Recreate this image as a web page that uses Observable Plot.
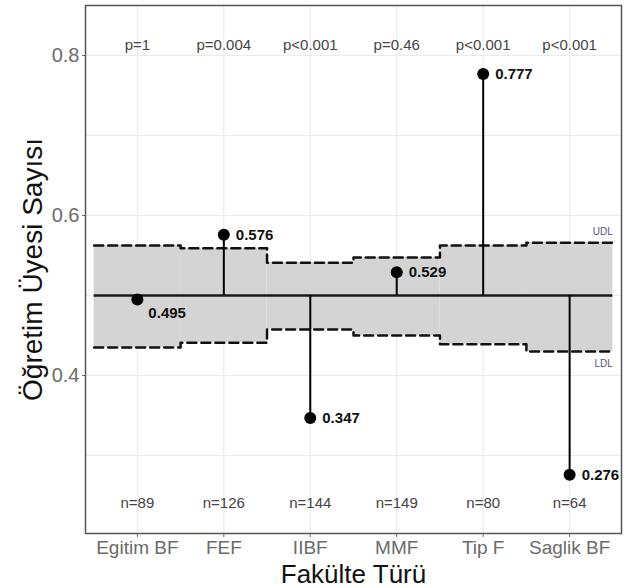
<!DOCTYPE html>
<html>
<head>
<meta charset="utf-8">
<script src="https://cdn.jsdelivr.net/npm/d3@7"></script>
<script src="https://cdn.jsdelivr.net/npm/@observablehq/plot@0.6"></script>
<style>
  html, body { margin: 0; padding: 0; background: #fff; }
</style>
</head>
<body>
<div id="chart"></div>
<script>
const categories = ["Egitim BF", "FEF", "IIBF", "MMF", "Tip F", "Saglik BF"];
const values = [0.495, 0.576, 0.347, 0.529, 0.777, 0.276];
const udl = [0.5625, 0.559, 0.541, 0.5475, 0.5625, 0.566];
const ldl = [0.435, 0.441, 0.4575, 0.45, 0.439, 0.43];
const nLabels = ["n=89", "n=126", "n=144", "n=149", "n=80", "n=64"];
const pLabels = ["p=1", "p=0.004", "p<0.001", "p=0.46", "p<0.001", "p<0.001"];
const centerValue = 0.5;
const yTicks = [0.4, 0.6, 0.8];
const yGrid = [0.3, 0.4, 0.5, 0.6, 0.7, 0.8];
const pLabelY = 0.8125;
const nLabelY = 0.24;

const data = categories.map((c, k) => ({
  i: k + 1, cat: c, value: values[k], udl: udl[k], ldl: ldl[k],
  n: nLabels[k], p: pLabels[k]
}));
const idx = data.map(d => d.i);
const udlSteps = data.flatMap(d => [{x: d.i - 0.5, y: d.udl}, {x: d.i + 0.5, y: d.udl}]);
const ldlSteps = data.flatMap(d => [{x: d.i - 0.5, y: d.ldl}, {x: d.i + 0.5, y: d.ldl}]);
const last = data[data.length - 1];
const nearCenter = d => Math.abs(d.value - centerValue) < 0.02;

const font = "'Liberation Sans', Arial, sans-serif";

const chart = Plot.plot({
  width: 626,
  height: 588,
  marginLeft: 85,
  marginRight: 5,
  marginTop: 5,
  marginBottom: 55,
  style: {fontFamily: font, background: "#fff"},
  x: {type: "linear", domain: [0.4, 6.6]},
  y: {domain: [0.2025, 0.8625]},
  marks: [
    Plot.gridY(yGrid, {stroke: "#ebebeb", strokeOpacity: 1, strokeWidth: 1.2}),
    Plot.gridX(idx, {stroke: "#ebebeb", strokeOpacity: 1, strokeWidth: 1.2}),
    Plot.rect(data, {x1: d => d.i - 0.5, x2: d => d.i + 0.5, y1: "ldl", y2: "udl", fill: "#d4d4d4"}),
    Plot.line(udlSteps, {x: "x", y: "y", stroke: "#111", strokeWidth: 2.5, strokeDasharray: "9,5"}),
    Plot.line(ldlSteps, {x: "x", y: "y", stroke: "#111", strokeWidth: 2.5, strokeDasharray: "9,5"}),
    Plot.ruleY([centerValue], {x1: 0.5, x2: 6.5, stroke: "#1a1a1a", strokeWidth: 2.5}),
    Plot.ruleX(data, {x: "i", y1: () => centerValue, y2: "value", stroke: "#000", strokeWidth: 2}),
    Plot.dot(data, {x: "i", y: "value", r: 6, fill: "#000", stroke: "none"}),
    Plot.text(data.filter(d => !nearCenter(d)), {x: "i", y: "value", text: d => d.value.toFixed(3),
      dx: 12, textAnchor: "start", fontSize: 15, fontWeight: "bold", fill: "#111"}),
    Plot.text(data.filter(nearCenter), {x: "i", y: "value", text: d => d.value.toFixed(3),
      dx: 11, dy: 14, textAnchor: "start", fontSize: 15, fontWeight: "bold", fill: "#111"}),
    Plot.text(data, {x: "i", y: () => pLabelY, text: "p", fontSize: 15, fill: "#444"}),
    Plot.text(data, {x: "i", y: () => nLabelY, text: "n", fontSize: 15, fill: "#444"}),
    Plot.text([last], {x: () => 6.5, y: "udl", text: () => "UDL", dy: -11, textAnchor: "end", fontSize: 10, fill: "#557"}),
    Plot.text([last], {x: () => 6.5, y: "ldl", text: () => "LDL", dy: 12, textAnchor: "end", fontSize: 10, fill: "#557"}),
    Plot.frame({stroke: "#555", strokeWidth: 1.5}),
    Plot.axisY({ticks: yTicks, tickFormat: ".1f", fontSize: 20, tickSize: 3, tickPadding: 3,
      color: "#6b6b6b", label: null}),
    Plot.axisX({ticks: idx, tickFormat: i => categories[i - 1], fontSize: 19, tickSize: 4, tickPadding: 3,
      color: "#6b6b6b", label: null}),
    Plot.text(["Fakülte Türü"], {frameAnchor: "bottom", dy: 41, lineAnchor: "middle", fontSize: 26, fill: "#111"}),
    Plot.text(["Öğretim Üyesi Sayısı"], {frameAnchor: "left", dx: -52, rotate: -90, textAnchor: "middle",
      lineAnchor: "middle", fontSize: 28, fill: "#111"})
  ]
});
document.getElementById("chart").appendChild(chart);
</script>
</body>
</html>
